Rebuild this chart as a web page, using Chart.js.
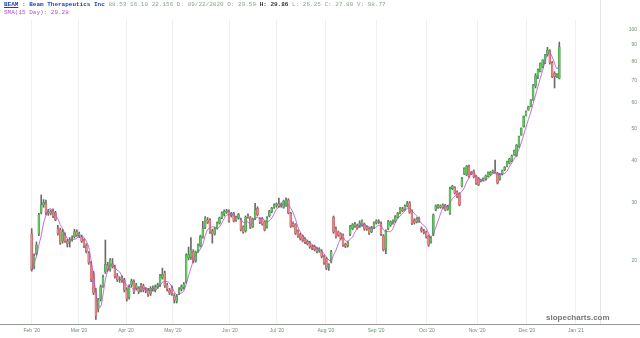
<!DOCTYPE html>
<html><head><meta charset="utf-8">
<script src="https://cdn.jsdelivr.net/npm/chart.js@4.4.1/dist/chart.umd.min.js"></script>
<style>
html,body{margin:0;padding:0;background:#fff;}
#wrap{position:relative;width:640px;height:338px;overflow:hidden;}
#c{position:absolute;left:0;top:0;}
.hdr{position:absolute;left:4px;font-family:'Liberation Mono',monospace;font-size:6px;line-height:8px;white-space:pre;}
#wm{position:absolute;left:546px;top:313px;font-family:'Liberation Sans',Arial,sans-serif;font-size:8px;line-height:10px;color:#777;font-weight:bold;}
</style></head><body>
<div id="wrap">
<canvas id="c" width="640" height="338" style="width:640px;height:338px"></canvas>
<div class="hdr" style="top:1px;"><span style="color:#1f3fc0;font-weight:bold;text-decoration:underline">BEAM</span><span style="color:#1f3fc0;font-weight:bold"> : Beam Therapeutics Inc</span><span style="color:#8fa38f"> 88.53 16.10 22.156 D: 09/22/2020 O: 29.59 </span><span style="color:#333;font-weight:bold">H: 29.86</span><span style="color:#8fa38f"> L: 26.25 C: 27.80 V: 98.77</span></div>
<div class="hdr" style="top:9px;color:#b050c8">SMA(15 Day): 29.28</div>
<div id="wm">slopecharts.com</div>
</div>
<script>
const opens=[24.1,19.2,21.0,24.1,28.0,29.5,29.8,28.1,27.8,28.3,
27.9,25.0,24.8,22.9,23.9,22.9,22.8,23.3,23.6,24.5,
23.8,23.6,23.1,22.3,21.1,19.7,18.4,16.2,14.3,15.3,
16.8,18.5,19.4,18.8,19.6,19.1,18.0,17.5,17.8,17.5,
16.4,15.5,16.9,17.3,16.5,16.5,16.3,16.8,16.3,16.3,
15.9,16.5,16.3,16.7,16.9,17.8,18.4,16.9,16.3,16.6,
15.7,15.1,16.0,16.4,16.6,17.3,20.4,20.5,21.3,20.0,
21.5,22.2,23.6,25.2,26.6,26.6,24.6,24.1,25.1,26.0,
27.0,27.6,28.0,28.2,27.4,27.8,26.5,26.9,26.6,25.3,
24.6,27.4,27.0,25.4,26.8,28.8,26.8,26.8,26.2,25.3,
27.3,28.1,29.0,29.4,29.7,29.3,29.0,29.4,30.5,27.8,
25.9,25.7,24.6,24.0,23.7,23.3,22.9,22.7,22.0,22.1,
21.8,21.4,21.4,20.6,20.3,19.1,19.9,27.1,25.0,24.4,
24.1,23.9,22.4,22.2,24.0,25.0,25.4,25.6,25.4,25.6,
25.8,25.3,25.0,24.5,25.2,26.0,26.3,25.9,23.8,21.7,
25.0,25.6,26.2,26.3,27.1,27.9,28.7,28.6,29.3,29.9,
28.3,26.5,26.2,26.9,25.0,24.6,24.4,23.7,22.8,24.0,
28.5,29.0,29.3,28.9,29.4,28.6,27.8,33.0,33.3,32.3,
31.9,33.6,36.6,36.3,38.5,37.0,37.4,36.0,35.5,34.8,
35.0,35.3,36.0,36.4,37.0,37.3,36.8,35.2,36.5,37.6,
38.6,39.4,40.0,41.8,41.5,44.2,48.0,50.8,55.0,57.1,
58.5,61.2,67.5,71.8,74.5,77.0,79.0,83.8,86.0,79.4,
73.6,72.0,71.1];
const highs=[25.0,21.0,22.8,27.8,31.6,30.6,30.5,28.6,28.5,28.7,
28.2,25.6,25.1,24.9,24.3,23.2,23.5,23.8,24.9,24.8,
24.4,23.9,23.3,22.5,21.3,19.9,18.6,16.5,15.4,16.9,
18.1,23.1,19.8,20.3,20.3,19.4,18.3,17.9,18.0,17.7,
16.6,16.9,17.6,17.5,17.1,16.7,17.1,17.0,16.6,16.5,
16.7,16.8,16.9,17.1,18.2,19.0,18.6,17.1,16.5,16.8,
15.9,15.8,16.6,16.9,17.2,21.0,22.0,23.5,21.6,21.4,
22.5,23.9,26.3,27.2,27.0,26.8,24.9,25.2,26.2,27.1,
28.1,28.5,28.6,28.5,28.0,28.0,27.3,27.8,26.9,25.5,
27.3,27.7,27.2,26.9,29.8,29.1,27.0,27.0,26.4,27.2,
28.4,29.0,29.7,29.9,30.9,29.9,30.5,31.0,30.8,28.0,
26.2,25.9,24.8,24.2,23.9,23.5,23.1,22.9,22.3,22.3,
22.0,21.9,21.6,20.8,20.5,19.6,21.5,27.3,25.3,24.6,
24.3,24.1,22.6,22.9,25.6,25.9,26.1,25.8,26.4,26.6,
26.0,25.5,25.2,25.4,26.2,26.6,26.6,26.2,24.0,24.8,
26.5,26.4,26.6,27.4,28.0,29.0,29.0,29.5,30.2,30.2,
28.5,26.8,27.0,27.1,25.3,24.9,24.6,23.9,23.6,27.7,
29.5,29.6,29.5,29.7,29.6,29.4,33.4,33.8,33.5,32.5,
32.1,35.7,38.2,38.8,38.9,37.2,37.6,36.2,35.7,35.3,
35.6,36.3,37.1,37.2,37.6,40.3,37.0,36.7,37.6,38.5,
40.0,40.8,41.7,43.2,44.9,47.6,50.4,54.8,56.7,58.6,
61.4,68.2,73.5,76.0,79.2,81.0,84.0,88.2,86.8,80.0,
74.5,73.5,91.5];
const lows=[18.6,18.9,20.8,23.8,27.7,29.0,27.5,27.4,27.5,27.0,
26.4,23.9,22.4,22.6,22.7,22.0,22.0,22.9,23.4,23.7,
23.5,22.7,21.9,21.1,19.5,17.3,15.8,13.3,14.0,15.1,
16.6,18.3,18.6,18.6,19.0,17.7,17.3,17.2,17.2,16.1,
15.1,15.3,16.7,15.9,16.3,15.9,16.1,16.1,16.0,15.6,
15.7,16.2,16.1,16.5,16.7,17.6,16.6,16.2,15.8,15.7,
14.9,14.9,15.8,16.2,16.4,17.1,20.1,20.2,19.7,19.8,
21.2,22.0,23.4,25.0,25.9,24.2,22.6,23.9,24.9,25.8,
26.8,27.3,27.8,26.1,27.1,26.2,26.3,26.7,24.6,24.2,
24.4,26.9,25.0,25.2,26.6,27.3,25.9,25.6,24.6,25.1,
27.1,27.9,28.8,29.0,29.0,29.0,28.8,29.2,27.7,25.2,
25.3,24.0,23.5,23.1,22.8,22.5,22.3,21.8,21.6,21.4,
21.1,21.2,20.4,19.5,18.8,18.7,19.7,24.2,23.4,23.7,
23.1,22.1,21.9,22.0,23.8,24.8,25.2,24.9,25.2,25.4,
24.7,24.7,24.0,24.3,25.0,25.8,25.9,23.8,21.4,21.0,
24.8,25.4,25.8,26.1,26.9,27.7,28.1,28.4,29.1,27.8,
25.7,25.8,26.0,26.1,24.4,24.1,23.4,22.1,22.6,23.8,
28.3,28.8,28.8,28.7,28.3,28.4,27.6,32.8,31.8,31.0,
29.3,33.4,36.4,36.1,35.7,36.4,35.6,34.0,33.7,34.6,
34.8,35.1,35.8,36.2,36.8,36.7,34.1,35.0,36.3,37.4,
38.4,39.2,39.8,41.6,41.3,44.0,47.8,50.6,54.8,56.9,
58.3,61.0,66.5,71.0,74.3,76.5,78.8,83.0,78.5,71.5,
66.5,71.5,70.8];
const closes=[18.8,20.7,22.3,27.5,29.5,30.0,27.9,27.8,28.2,27.2,
26.6,24.1,22.6,24.5,22.9,22.5,23.1,23.1,24.5,23.9,
24.1,22.9,22.1,21.3,19.7,17.5,16.0,13.6,15.2,16.7,
17.9,19.5,18.8,20.1,19.2,17.9,17.5,17.6,17.4,16.3,
15.3,16.7,17.4,16.1,16.9,16.1,16.9,16.3,16.2,15.8,
16.5,16.4,16.7,16.9,18.0,18.2,16.8,16.4,16.0,15.9,
15.2,15.6,16.4,16.7,17.0,20.8,20.9,21.6,19.9,21.2,
22.3,23.7,25.0,26.9,26.1,24.4,24.1,25.0,26.0,26.9,
27.9,28.2,28.3,26.3,27.8,26.4,27.1,27.6,24.8,24.4,
27.1,27.1,25.2,26.7,28.5,27.5,26.1,25.8,24.8,27.0,
28.2,28.8,29.5,29.7,29.2,29.6,30.3,30.6,27.9,25.4,
25.5,24.2,23.7,23.3,23.0,22.7,22.5,22.0,21.8,21.6,
21.3,21.7,20.6,19.7,19.0,19.4,21.3,24.4,23.6,23.9,
23.3,22.3,22.1,22.7,25.4,25.7,25.9,25.1,26.0,26.4,
24.9,24.9,24.2,25.2,26.0,26.4,26.1,24.0,21.6,24.6,
26.3,26.2,26.3,27.2,27.8,28.8,28.3,29.3,29.8,28.0,
25.9,26.0,26.8,26.3,24.6,24.3,23.6,22.3,23.4,27.5,
29.3,29.4,29.0,29.5,28.5,29.2,33.1,33.6,32.0,31.2,
29.5,35.5,38.0,38.6,35.9,36.6,35.8,34.2,33.9,35.1,
35.4,36.1,36.9,37.0,37.4,36.9,34.3,36.5,37.4,38.3,
39.8,40.6,41.5,43.0,44.7,47.4,50.2,54.6,56.5,58.4,
61.2,67.9,72.5,75.4,78.9,80.8,83.6,86.5,79.2,72.0,
72.0,72.9,88.6];
const smaValues=[18.8,19.7,20.6,22.3,23.8,26.0,27.4,28.5,28.7,28.2,
27.5,26.8,25.7,25.0,24.1,23.3,23.1,23.2,23.2,23.4,
23.7,23.7,23.5,22.9,22.0,20.0,18.0,16.0,14.6,14.5,
15.8,17.5,18.7,19.4,19.4,19.1,18.7,18.5,17.9,17.3,
16.8,16.7,16.6,16.4,16.5,16.6,16.7,16.5,16.5,16.3,
16.3,16.2,16.3,16.5,16.9,17.2,17.3,17.3,17.1,16.7,
16.1,15.8,15.8,16.0,16.2,17.0,18.0,19.0,20.0,20.9,
21.2,21.7,22.4,23.8,24.8,25.2,25.3,25.3,25.1,25.3,
26.0,26.8,27.5,27.5,27.7,27.4,27.2,27.0,26.7,26.1,
26.2,26.2,25.7,26.1,26.9,27.0,26.8,26.9,26.5,26.2,
26.4,26.9,27.7,28.6,29.1,29.4,29.7,29.9,29.5,28.8,
27.9,26.7,25.3,24.4,23.9,23.4,23.0,22.7,22.4,22.1,
21.8,21.7,21.4,21.0,20.5,20.1,20.0,20.8,21.5,22.5,
23.3,23.5,23.0,22.9,23.2,23.6,24.4,25.0,25.6,25.8,
25.7,25.5,25.3,25.1,25.0,25.3,25.6,25.5,24.8,24.5,
24.5,24.5,25.0,26.1,26.8,27.3,27.7,28.3,28.8,28.8,
28.3,27.8,27.3,26.6,25.9,25.6,25.1,24.2,23.6,24.2,
25.2,26.4,27.7,28.9,29.1,29.1,29.9,30.8,31.3,31.8,
31.9,32.4,33.2,34.6,35.5,36.9,37.0,36.2,35.3,35.1,
34.9,34.9,35.5,36.1,36.6,36.9,36.5,36.4,36.5,36.7,
37.3,38.5,39.5,40.6,41.9,43.4,45.4,48.0,50.7,53.4,
56.2,59.7,63.3,67.1,71.2,75.1,80.0,84.0,85.0,82.5,
79.0,76.0,78.0];
const monthLabels=["Feb '20","Mar '20","Apr '20","May '20","Jun '20","Jul '20","Aug '20","Sep '20","Oct '20","Nov '20","Dec '20","Jan '21"];
const monthTickIndex=[0,19.9,39.7,59.4,83.4,103.2,123.8,144.9,166.3,187.4,208.4,229.0];
const priceTicks=[20,30,40,50,60,70,80,90,100];

const idx=closes.map((_,i)=>i);
const isUp=i=>closes[i]>=opens[i];
const wickData=idx.map(i=>({x:i,y:[lows[i],highs[i]]}));
const bodyData=idx.map(i=>({x:i,y:[opens[i],closes[i]]}));
const smaData=idx.map(i=>({x:i,y:smaValues[i]}));

const frame={id:'frame',beforeDatasetsDraw(chart){
  const {ctx,chartArea:a}=chart;
  ctx.save();
  ctx.strokeStyle='#e4e4e4';ctx.lineWidth=1;
  ctx.beginPath();ctx.moveTo(Math.round(a.right)+0.5,0);ctx.lineTo(Math.round(a.right)+0.5,a.bottom);ctx.stroke();
  ctx.strokeStyle='#9a9a9a';
  ctx.beginPath();ctx.moveTo(0,Math.round(a.bottom)+0.5);ctx.lineTo(chart.width,Math.round(a.bottom)+0.5);ctx.stroke();
  ctx.restore();
}};

new Chart(document.getElementById('c'),{
  type:'bar',
  data:{datasets:[
    {type:'line',data:smaData,borderColor:'#b04ccc',borderWidth:0.8,pointRadius:0,tension:0.3,order:0},
    {type:'bar',data:bodyData,grouped:false,barThickness:2,
     backgroundColor:idx.map(i=>isUp(i)?'#63c963':'#e58a8a'),
     borderColor:idx.map(i=>isUp(i)?'#3f8f3f':'#b85050'),
     borderWidth:0.5,borderSkipped:false,order:1},
    {type:'bar',data:wickData,grouped:false,barThickness:1,backgroundColor:'#6a6a6a',borderWidth:0,order:2}
  ]},
  options:{
    responsive:false,animation:false,
    layout:{padding:{left:0,right:3,top:20,bottom:0}},
    plugins:{legend:{display:false},tooltip:{enabled:false}},
    scales:{
      x:{type:'linear',min:-13.34,max:239.12,offset:false,
        grid:{color:'#efefef',drawTicks:false,offset:false},
        border:{display:false},
        afterBuildTicks:s=>{s.ticks=monthTickIndex.map(v=>({value:v}));},
        afterFit:s=>{s.height=14;},
        ticks:{callback:(v,i)=>monthLabels[i],font:{size:5,family:'Liberation Sans'},color:'#6f916f',padding:4,maxRotation:0,autoSkip:false}
      },
      y:{type:'logarithmic',position:'right',min:12.88,max:106.7,
        grid:{display:false,drawTicks:false},border:{display:false},
        afterBuildTicks:s=>{s.ticks=priceTicks.map(v=>({value:v}));},
        afterFit:s=>{s.width=37;},
        ticks:{callback:v=>String(v),font:{size:5,family:'Liberation Sans'},color:'#6f916f',crossAlign:'far',padding:0}
      }
    }
  },
  plugins:[frame]
});
</script>
</body></html>
